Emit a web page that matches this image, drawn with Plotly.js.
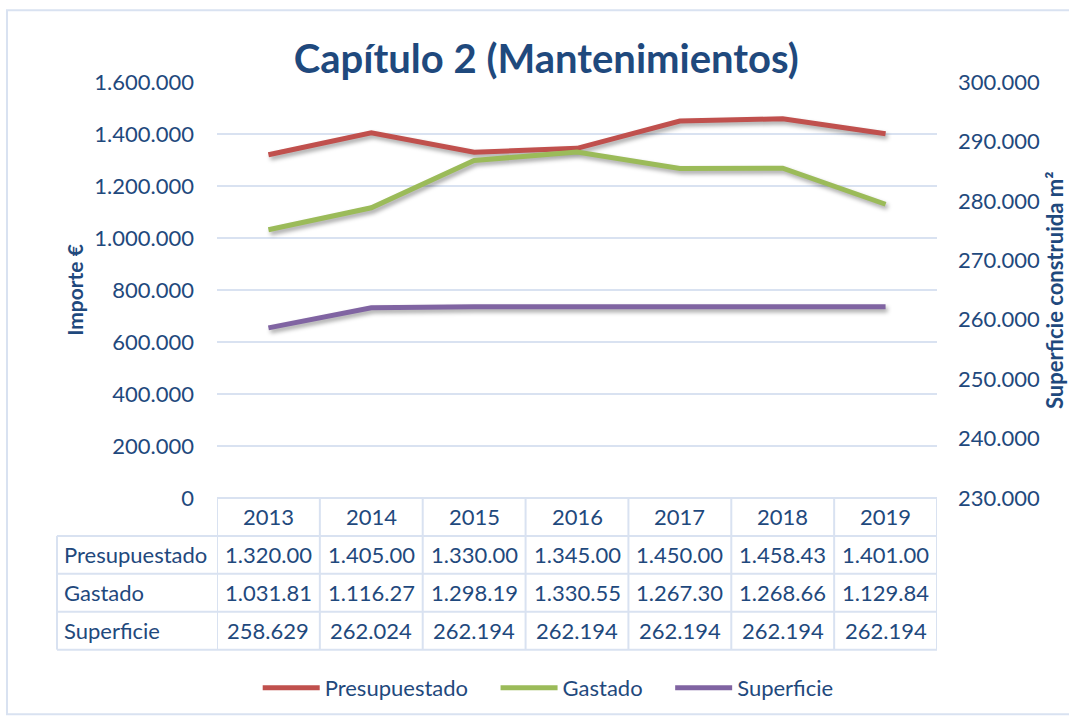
<!DOCTYPE html>
<html><head><meta charset="utf-8">
<script src="https://cdn.plot.ly/plotly-3.0.1.min.js"></script>
<style>html,body{margin:0;padding:0;background:#fff}#chart{width:1069px;height:720px}
#chart .scatterlayer .trace{filter:drop-shadow(2px 3px 2px rgba(0,0,0,0.35));}</style>
</head><body><div id="chart"></div>
<script>
var years = ['2013','2014','2015','2016','2017','2018','2019'];
var presupuestado = [1320000,1405000,1330000,1345000,1450000,1458430,1401000];
var gastado = [1031810,1116270,1298190,1330550,1267300,1268660,1129840];
var superficie = [258629,262024,262194,262194,262194,262194,262194];
var seriesNames = ['Presupuestado','Gastado','Superficie'];
var leftTitle = 'Importe €';
var rightTitle = 'Superficie construida m²';
var chartTitle = 'Capítulo 2 (Mantenimientos)';

var FONT = 'Lato, "Open Sans", sans-serif';
var TXT = '#1F497D';
var GRID = '#D9E2F1';
var colors = ['#C0504D','#9BBB59','#8064A2'];
var PAD = '\u00A0\u00A0\u00A0\u00A0';

function fmt(v){ return String(v).replace(/\B(?=(\d{3})+(?!\d))/g,'.').slice(0,8); }

var traces = [
  {x: years, y: presupuestado, name: seriesNames[0]+PAD, type:'scatter', mode:'lines', line:{color:colors[0], width:5}, yaxis:'y'},
  {x: years, y: gastado, name: seriesNames[1]+PAD, type:'scatter', mode:'lines', line:{color:colors[1], width:5}, yaxis:'y'},
  {x: years, y: superficie, name: seriesNames[2], type:'scatter', mode:'lines', line:{color:colors[2], width:5}, yaxis:'y2'}
];

// table geometry (paper coords relative to plot area)
var rowEdges = [0, -0.0911, -0.1823, -0.2734, -0.3645];
var labelLeft = -0.2222;
var rows = [presupuestado, gastado, superficie];

var shapes = [];
var annotations = [];
// outer border
shapes.push({type:'rect', xref:'paper', yref:'paper', x0:-0.2917, x1:1.2, y0:1.1727, y1:-0.52, line:{color:GRID, width:2}, layer:'below'});
// vertical lines of table
for (var i=0;i<=years.length;i++){
  shapes.push({type:'line', xref:'x', yref:'paper', x0:i-0.5, x1:i-0.5, y0:rowEdges[0], y1:rowEdges[4], line:{color:GRID, width:2}});
}
shapes.push({type:'line', xref:'paper', yref:'paper', x0:labelLeft, x1:labelLeft, y0:rowEdges[1], y1:rowEdges[4], line:{color:GRID, width:2}});
// horizontal lines
shapes.push({type:'line', xref:'paper', yref:'paper', x0:0, x1:1, y0:rowEdges[0], y1:rowEdges[0], line:{color:GRID, width:2}});
for (var r=1;r<rowEdges.length;r++){
  shapes.push({type:'line', xref:'paper', yref:'paper', x0:labelLeft, x1:1, y0:rowEdges[r], y1:rowEdges[r], line:{color:GRID, width:2}});
}
var TFS = 22;
// header years
years.forEach(function(yr, ci){
  annotations.push({x:ci, xref:'x', y:(rowEdges[0]+rowEdges[1])/2, yref:'paper', text:yr, showarrow:false, xanchor:'center', yanchor:'middle', font:{family:FONT, size:TFS, color:TXT}});
});
rows.forEach(function(vals, ri){
  var yc = (rowEdges[ri+1]+rowEdges[ri+2])/2;
  annotations.push({x:-0.2153, xref:'paper', y:yc, yref:'paper', text:seriesNames[ri], showarrow:false, xanchor:'left', yanchor:'middle', font:{family:FONT, size:TFS, color:TXT}});
  vals.forEach(function(v, ci){
    annotations.push({x:ci, xref:'x', y:yc, yref:'paper', text:fmt(v), showarrow:false, xanchor:'center', yanchor:'middle', font:{family:FONT, size:TFS, color:TXT}});
  });
});
// right axis title
annotations.push({x:1.1625, xref:'paper', y:0.5, yref:'paper', text:rightTitle, textangle:-90, showarrow:false, xanchor:'center', yanchor:'middle', font:{family:FONT, size:22, color:TXT, weight:'bold'}});

var layout = {
  width:1069, height:720,
  margin:{l:217, r:132, t:82, b:221},
  paper_bgcolor:'#fff', plot_bgcolor:'#fff',
  separators:',.',
  font:{family:FONT, color:TXT},
  title:{text:chartTitle, x:0.511, xanchor:'center', y:0.918, yanchor:'middle', font:{family:FONT, size:40, color:TXT, weight:'bold'}},
  xaxis:{type:'category', range:[-0.5,6.5], showticklabels:false, showgrid:false, zeroline:false, showline:false, ticks:''},
  yaxis:{range:[0,1600000], dtick:200000, tickformat:',d', showgrid:true, gridcolor:GRID, gridwidth:2, zeroline:false, showline:false, ticks:'', ticklabelstandoff:22,
         tickfont:{family:FONT, size:22, color:TXT},
         title:{text:leftTitle, standoff:4, font:{family:FONT, size:21, color:TXT, weight:'bold'}}},
  yaxis2:{overlaying:'y', side:'right', range:[230000,300000], dtick:10000, tickformat:',d', showgrid:false, zeroline:false, showline:false, ticks:'', ticklabelstandoff:20,
         tickfont:{family:FONT, size:22, color:TXT}},
  showlegend:true,
  legend:{orientation:'h', x:0.46, xanchor:'center', y:-0.453, yanchor:'middle', itemwidth:57, font:{family:FONT, size:22, color:TXT}, bgcolor:'rgba(0,0,0,0)'},
  shapes:shapes,
  annotations:annotations
};

Plotly.newPlot('chart', traces, layout, {displayModeBar:false, staticPlot:true});
</script>
</body></html>
